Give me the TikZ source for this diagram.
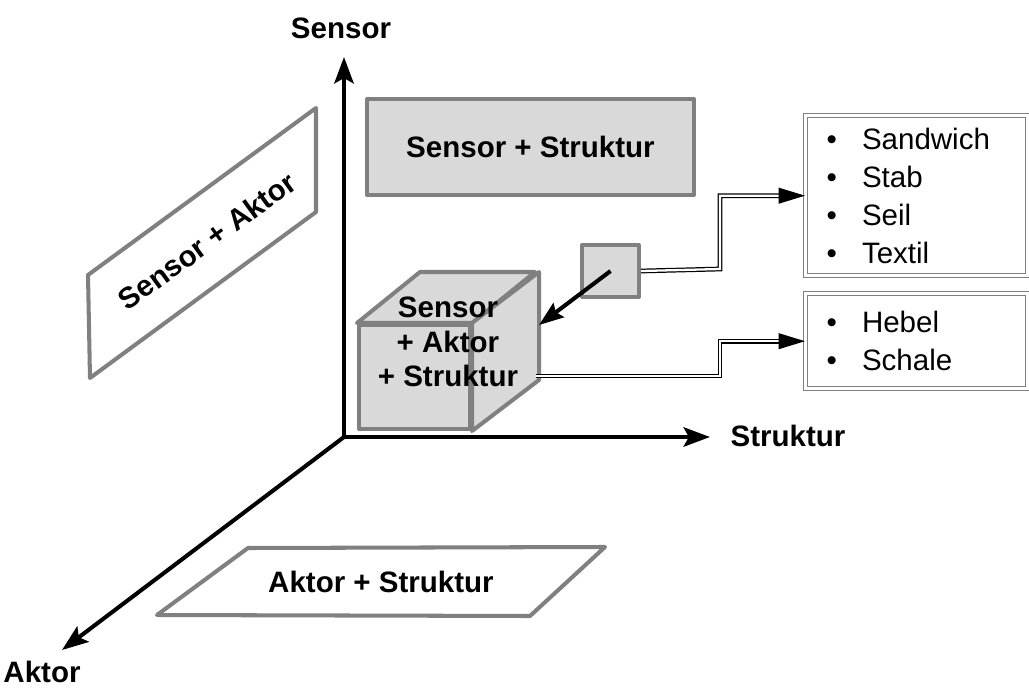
\documentclass[tikz,border=0pt]{standalone}
\usepackage{fontspec}
\setmainfont{Liberation Sans}
\usetikzlibrary{arrows.meta, positioning, calc}
\definecolor{boxgray}{RGB}{217,217,217}
\definecolor{edgegray}{RGB}{128,128,128}

\begin{document}
\begin{tikzpicture}[x=0.02cm, y=-0.02cm,
  every node/.style={font=\fontsize{16.8}{19.8}\selectfont},
  axis/.style={line width=2.3pt, -{Stealth[length=15pt, width=11pt, inset=3pt]}},
  axislabel/.style={font=\fontsize{16.8}{19.8}\selectfont\bfseries},
  graybox/.style={draw=edgegray, fill=boxgray, line width=2.3pt, line join=round, inner sep=0pt},
  plane/.style={draw=edgegray, line width=2.3pt, line join=round},
  listbox/.style={draw=edgegray, double=white, double distance=1.4pt, line width=0.8pt,
    anchor=north west, inner sep=0pt, minimum width=4.44cm, text width=4.44cm, align=left,
    font=\fontsize{16.8}{21.6}\selectfont},
  dblarrow/.style={draw=black, line width=0.7pt, double=white, double distance=1.3pt,
    -{Triangle[length=15pt, width=9pt]}}
]
\useasboundingbox (0,0) rectangle (1029,693);

% Axes
\coordinate (origin) at (344,437);
\node[axislabel] (ylab) at (341,28) {Sensor};
\node[axislabel] (xlab) at (788,436) {Struktur};
\node[axislabel] (zlab) at (42,672) {Aktor};
\draw[axis] (origin) -- (344,57);
\draw[axis] (origin) -- (710,437);
\draw[axis] (origin) -- (62,650);

% Planes
\node[graybox, minimum width=6.54cm, minimum height=1.92cm, anchor=north west] (sensstr) at (365,97) {\bfseries Sensor + Struktur};
\draw[plane] (88,275) -- (316,108) -- (316,212) -- (90,378) -- cycle;
\node[font=\fontsize{16.8}{19.8}\selectfont\bfseries, rotate=36] (sensakt) at (207,241) {Sensor + Aktor};
\draw[plane] (248,548) -- (605,547) -- (530,616) -- (157,615) -- cycle;
\node[font=\fontsize{16.8}{19.8}\selectfont\bfseries] (aktstr) at (381,582) {Aktor + Struktur};

% Cube
\node[graybox, minimum width=2.22cm, minimum height=2.08cm, anchor=north west] (cube) at (357,323) {};
\draw[graybox] (cube.north west) -- ++(63,-51) -- ++(115,0) -- (cube.north east) -- cycle;
\draw[graybox] (cube.north east) -- ++(67,-51) -- ++(0,108) -- (cube.south east) -- cycle;
\node[font=\fontsize{16.8}{19.8}\selectfont\bfseries, align=center] (cubetxt) at (448,342) {Sensor\\+ Aktor\\+ Struktur};
\coordinate (cubeout) at (536,376);

% Small box
\node[graybox, minimum width=1.14cm, minimum height=1.04cm, anchor=north west] (sbox) at (580,243) {};
\draw[line width=2.3pt, -{Stealth[length=14pt, width=10pt, inset=2pt]}] (sbox.center) -- (539,325);

% Lists
\node[listbox, minimum height=3.2cm] (list1) at (805,115)
  {\hspace*{0.42cm}\textbullet\hspace{0.5cm}Sandwich\\\hspace*{0.42cm}\textbullet\hspace{0.5cm}Stab\\\hspace*{0.42cm}\textbullet\hspace{0.5cm}Seil\\\hspace*{0.42cm}\textbullet\hspace{0.5cm}Textil};
\node[listbox, minimum height=1.9cm] (list2) at (805,293)
  {\hspace*{0.42cm}\textbullet\hspace{0.5cm}Hebel\\\hspace*{0.42cm}\textbullet\hspace{0.5cm}Schale};

% Connectors
\draw[dblarrow] (sbox.east) -- (720,269) |- (list1.west);
\draw[dblarrow] (cubeout) -- (720,376) |- (list2.west);
\end{tikzpicture}
\end{document}
